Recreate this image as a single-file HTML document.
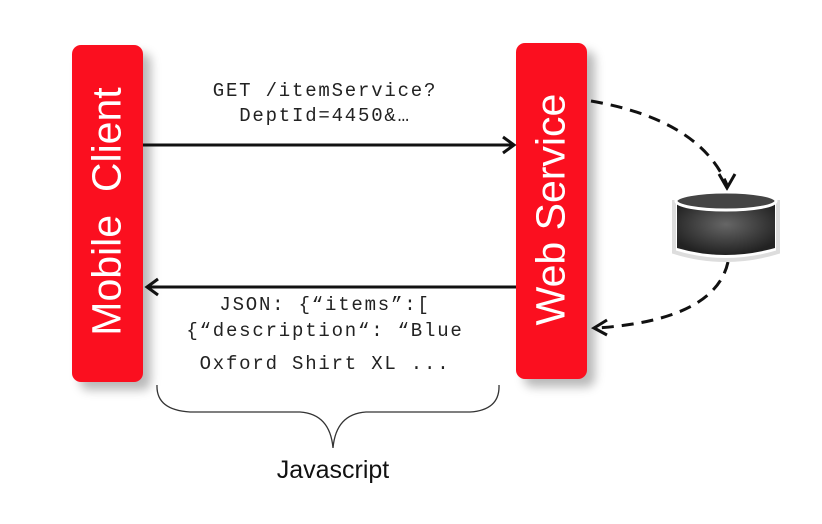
<!DOCTYPE html>
<html><head><style>
body{margin:0;width:822px;height:524px;background:#fff;overflow:hidden;position:relative;font-family:"Liberation Sans",sans-serif}
.box{position:absolute;background:#fb0f1f;border-radius:9px;box-shadow:8px 8px 10px rgba(0,0,0,.28)}
.lbl{position:absolute;color:#fff;font-size:41px;white-space:nowrap;transform:rotate(-90deg);transform-origin:center}
.mono{position:absolute;font-family:"Liberation Mono",monospace;font-size:19px;letter-spacing:1.8px;color:#222;white-space:nowrap;text-align:center}
</style></head><body>
<div class="box" style="left:72px;top:45px;width:71px;height:337px"></div>
<div class="box" style="left:516px;top:43px;width:71px;height:336px"></div>
<div class="lbl" style="left:-43px;top:188px;width:300px;text-align:center">Mobile&nbsp; Client</div>
<div class="lbl" style="left:401px;top:186px;width:300px;text-align:center">Web Service</div>
<svg width="822" height="524" style="position:absolute;left:0;top:0">
<defs><radialGradient id="g" cx="50%" cy="40%" r="60%"><stop offset="0" stop-color="#666"/><stop offset="1" stop-color="#222"/></radialGradient></defs>
<g stroke="#111" stroke-width="3" fill="none">
<line x1="143" y1="145" x2="513" y2="145"/><polyline points="503,137 514,145 503,153"/>
<line x1="516" y1="287" x2="148" y2="287"/><polyline points="158,279 147,287 158,295"/>
<path d="M591 101 Q700 120 727 185" stroke-dasharray="12,8"/>
<polyline points="719,174 727,188 735,174"/>
<path d="M728 262 Q715 320 597 328" stroke-dasharray="12,8"/>
<polyline points="607,320 594,328 607,335"/>
<path d="M157 385 Q156 410 190 412 L300 412 Q330 414 333 448 Q336 414 366 412 L470 412 Q500 410 499 385" stroke-width="1.3" stroke="#333"/>
</g>
<g>
<path d="M674 202 L674 252 Q725 268 778 252 L778 202 Z" fill="#fff" stroke="#ddd" stroke-width="4"/>
<path d="M677 204 L677 248 Q725 262 775 248 L775 204 Z" fill="url(#g)"/>
<ellipse cx="726" cy="201" rx="50" ry="9" fill="#444" stroke="#fff" stroke-width="3"/>
</g>
</svg>
<div class="mono" style="left:150px;top:80px;width:350px">GET /itemService?</div>
<div class="mono" style="left:150px;top:105px;width:350px">DeptId=4450&amp;…</div>
<div class="mono" style="left:150px;top:294px;width:350px">JSON: {“items”:[</div>
<div class="mono" style="left:150px;top:320px;width:350px">{“description“: “Blue</div>
<div class="mono" style="left:150px;top:353px;width:350px">Oxford Shirt XL ...</div>
<div style="position:absolute;left:183px;top:456px;width:300px;text-align:center;font-size:25px;color:#111">Javascript</div>
</body></html>
